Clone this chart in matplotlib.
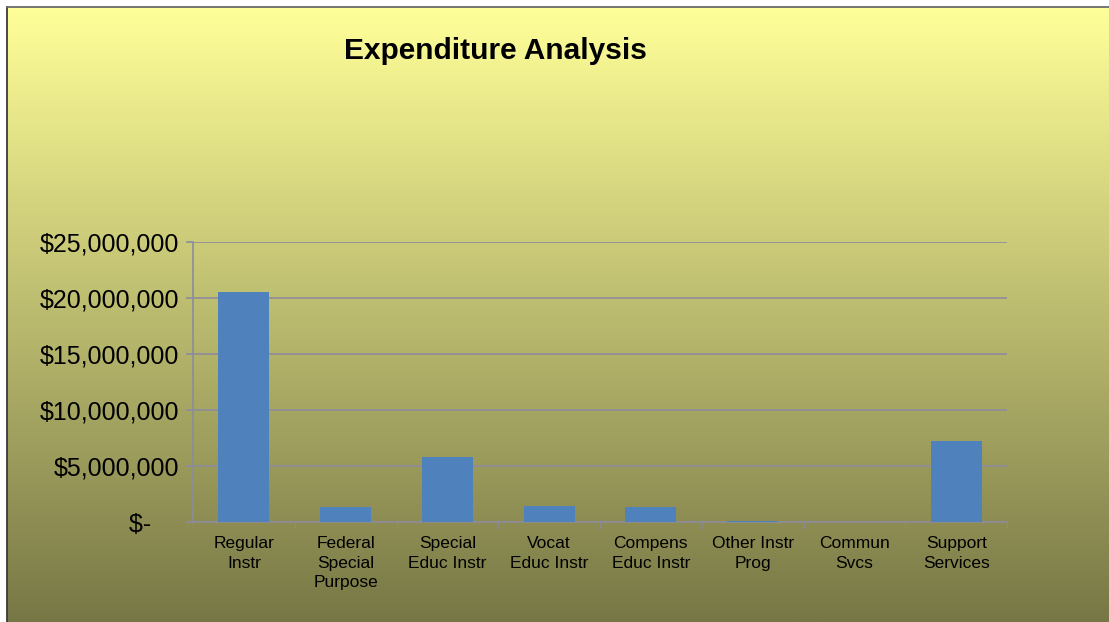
"""
Expenditure Analysis bar chart, recreated in matplotlib.
"""

import numpy as np
import matplotlib
matplotlib.use("Agg")
import matplotlib.pyplot as plt
from matplotlib.colors import LinearSegmentedColormap


# ─── Data ─────────────────────────────────────────────────────────────────────

categories = [
    "Regular\nInstr",
    "Federal\nSpecial\nPurpose",
    "Special\nEduc Instr",
    "Vocat\nEduc Instr",
    "Compens\nEduc Instr",
    "Other Instr\nProg",
    "Commun\nSvcs",
    "Support\nServices",
]
expenditures = [20_500_000, 1_300_000, 5_800_000, 1_450_000, 1_300_000, 120_000, 0, 7_200_000]
y_ticks = [0, 5_000_000, 10_000_000, 15_000_000, 20_000_000, 25_000_000]

TITLE      = "Expenditure Analysis"
BAR_COLOR  = "#4F81BD"
GRID_COLOR = "#8C8C9C"
BG_TOP     = "#FFFF99"
BG_BOTTOM  = "#777746"
W, H       = 1109, 622
EDGE       = 7   # white margin at top/left before the chart frame


def money(v):
    # accounting format: the dash sits left of the digit column
    return "$-    " if v == 0 else f"${v:,.0f}"


plt.rcParams["font.family"] = ["Liberation Sans", "DejaVu Sans"]

fig = plt.figure(figsize=(W / 100, H / 100), dpi=100)
fig.patch.set_facecolor("white")

# ─── Gradient background ──────────────────────────────────────────────────────
bg = fig.add_axes([EDGE / W, 0, 1 - EDGE / W, (H - EDGE) / H])
cmap = LinearSegmentedColormap.from_list("bg", [BG_TOP, BG_BOTTOM])
bg.imshow(np.linspace(0, 1, 256).reshape(-1, 1), aspect="auto", cmap=cmap,
          extent=[0, 1, 0, 1], origin="upper")
bg.set_axis_off()
fx, fy = EDGE / W, (H - EDGE) / H
fig.add_artist(plt.Line2D([fx, fx], [0, fy], color="#3a3a3a", lw=1.3))
fig.add_artist(plt.Line2D([fx, 1], [fy, fy], color="#6a6a6a", lw=1.3))

# ─── Chart ────────────────────────────────────────────────────────────────────
ax = fig.add_axes([193 / W, 1 - 522 / H, (1007 - 193) / W, (522 - 242) / H])
ax.set_facecolor("none")

x = np.arange(len(categories))
ax.bar(x, expenditures, width=0.5, color=BAR_COLOR, zorder=3)

ax.set_xlim(-0.5, len(categories) - 0.5)
ax.set_ylim(0, 25_000_000)
ax.set_yticks(y_ticks)
ax.set_yticklabels([money(v) for v in y_ticks], fontsize=18)
ax.yaxis.grid(True, color=GRID_COLOR, lw=1.2, zorder=1)

ax.set_xticks(x)
ax.set_xticklabels(categories, fontsize=12.5, linespacing=1.4, va="top")
ax.set_xticks(np.arange(len(categories) + 1) - 0.5, minor=True)
ax.tick_params(axis="x", which="major", length=0, pad=10)
ax.tick_params(axis="x", which="minor", length=5, color=GRID_COLOR, direction="out")
ax.tick_params(axis="y", length=5, color=GRID_COLOR, width=1.2, pad=5)

for side in ("top", "right"):
    ax.spines[side].set_visible(False)
for side in ("left", "bottom"):
    ax.spines[side].set_color(GRID_COLOR)
    ax.spines[side].set_linewidth(1.2)

fig.text(495 / W, 1 - 51 / H, TITLE, fontsize=21.5, fontweight="bold",
         ha="center", va="center")

fig.savefig("out.png", dpi=100)
